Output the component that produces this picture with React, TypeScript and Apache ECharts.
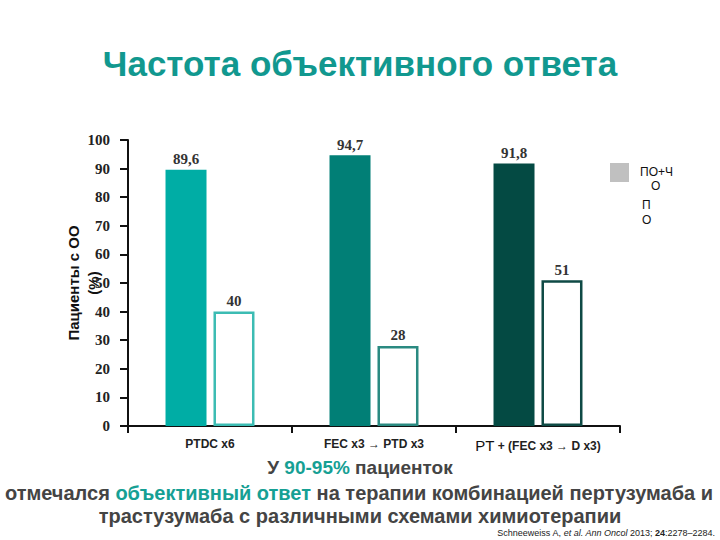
import React, { useEffect, useRef } from "react";
import * as echarts from "echarts";

const categories = ["PTDC x6", "FEC x3 → PTD x3", "PT + (FEC x3 → D x3)"];
const seriesNames = ["ПО+ЧО", "ПО"];
const pcrValues = [89.6, 94.7, 91.8];
const poValues = [40, 28, 51];
const barColors = ["#00ada5", "#017f76", "#044a43"];
const borderColors = ["#3cbcb3", "#2a8a81", "#0f4a45"];

const SANS = "Liberation Sans";
const SERIF = "Liberation Serif";

export default function App() {
  const ref = useRef<HTMLDivElement>(null);
  useEffect(() => {
    if (!ref.current) return;
    const chart = echarts.init(ref.current, null, { renderer: "svg" });
    const labelStyle = {
      show: true,
      position: "top",
      distance: 3,
      fontFamily: SERIF,
      fontWeight: "bold",
      fontSize: 15,
      color: "#333",
      formatter: (p: any) => String(p.value).replace(".", ","),
    };
    const bodyRich = (size: number) => ({
      n: { fontFamily: SANS, fontWeight: "bold", fontSize: size, fill: "#444" },
      h: { fontFamily: SANS, fontWeight: "bold", fontSize: size, fill: "#16a094" },
    });
    chart.setOption({
      animation: false,
      backgroundColor: "#ffffff",
      title: {
        text: "Частота объективного ответа",
        left: "center",
        top: 41,
        textStyle: {
          fontFamily: SANS,
          fontWeight: "bold",
          fontSize: 35,
          color: "#11988f",
        },
      },
      grid: { left: 128, right: 100, top: 140, bottom: 114 },
      xAxis: {
        type: "category",
        data: categories,
        axisLine: { lineStyle: { color: "#111", width: 2 } },
        axisTick: { show: true, length: 7, lineStyle: { color: "#111", width: 2 } },
        axisLabel: {
          interval: 0,
          margin: 12,
          fontFamily: SANS,
          fontWeight: "bold",
          fontSize: 12,
          color: "#222",
          formatter: (v: string) =>
            v.startsWith("PT +") ? "{big|PT} + " + v.slice(5) : v,
          rich: {
            big: {
              fontFamily: SANS,
              fontSize: 15,
              fontWeight: "normal",
              color: "#111",
            },
          },
        },
      },
      yAxis: {
        type: "value",
        min: 0,
        max: 100,
        interval: 10,
        splitLine: { show: false },
        axisLine: { show: true, lineStyle: { color: "#111", width: 2 } },
        axisTick: { show: true, length: 8, lineStyle: { color: "#111", width: 2 } },
        axisLabel: {
          margin: 18,
          fontFamily: SERIF,
          fontWeight: "bold",
          fontSize: 15,
          color: "#222",
        },
      },
      series: [
        {
          name: seriesNames[0],
          type: "bar",
          barWidth: 41,
          barGap: "17%",
          data: pcrValues.map((v, i) => ({
            value: v,
            itemStyle: { color: barColors[i] },
          })),
          label: labelStyle,
        },
        {
          name: seriesNames[1],
          type: "bar",
          barWidth: 41,
          data: poValues.map((v, i) => ({
            value: v,
            itemStyle: { color: "#ffffff", borderColor: borderColors[i], borderWidth: 2.5 },
          })),
          label: labelStyle,
        },
      ],
      graphic: [
        {
          type: "text",
          x: 83,
          y: 283,
          rotation: Math.PI / 2,
          style: {
            text: "Пациенты с ОО\n(%)",
            align: "center",
            verticalAlign: "middle",
            fontFamily: SANS,
            fontWeight: "bold",
            fontSize: 15,
            lineHeight: 20,
            fill: "#111",
          },
        },
        { type: "rect", shape: { x: 610, y: 163, width: 19, height: 19 }, style: { fill: "#c0c0c0" } },
        { type: "text", x: 640, y: 166, style: { text: "ПО+Ч", fontFamily: SANS, fontSize: 12, fill: "#111" } },
        { type: "text", x: 651, y: 180, style: { text: "О", fontFamily: SANS, fontSize: 12, fill: "#111" } },
        { type: "text", x: 642, y: 199, style: { text: "П", fontFamily: SANS, fontSize: 12, fill: "#111" } },
        { type: "text", x: 642, y: 214, style: { text: "О", fontFamily: SANS, fontSize: 12, fill: "#111" } },
        {
          type: "text",
          x: 360,
          y: 467,
          style: {
            text: "{n|У }{h|90-95%}{n| пациенток}",
            align: "center",
            verticalAlign: "middle",
            rich: bodyRich(19),
          },
        },
        {
          type: "text",
          x: 359,
          y: 493,
          style: {
            text: "{n|отмечался }{h|объективный ответ}{n| на терапии комбинацией пертузумаба и}",
            align: "center",
            verticalAlign: "middle",
            rich: bodyRich(20),
          },
        },
        {
          type: "text",
          x: 360,
          y: 516,
          style: {
            text: "трастузумаба с различными схемами химиотерапии",
            align: "center",
            verticalAlign: "middle",
            fontFamily: SANS,
            fontWeight: "bold",
            fontSize: 20,
            fill: "#444",
          },
        },
        {
          type: "text",
          x: 715,
          y: 533,
          style: {
            text: "Schneeweiss A, {i|et al. Ann Oncol} 2013; {b|24}:2278–2284.",
            align: "right",
            verticalAlign: "middle",
            fontFamily: SANS,
            fontSize: 9,
            fill: "#222",
            rich: {
              i: { fontStyle: "italic", fontFamily: SANS, fontSize: 9, fill: "#222" },
              b: { fontWeight: "bold", fontFamily: SANS, fontSize: 9, fill: "#222" },
            },
          },
        },
      ],
    });
    return () => chart.dispose();
  }, []);
  return (
    <div
      ref={ref}
      style={{ position: "fixed", left: 0, top: 0, width: 720, height: 540 }}
    />
  );
}
